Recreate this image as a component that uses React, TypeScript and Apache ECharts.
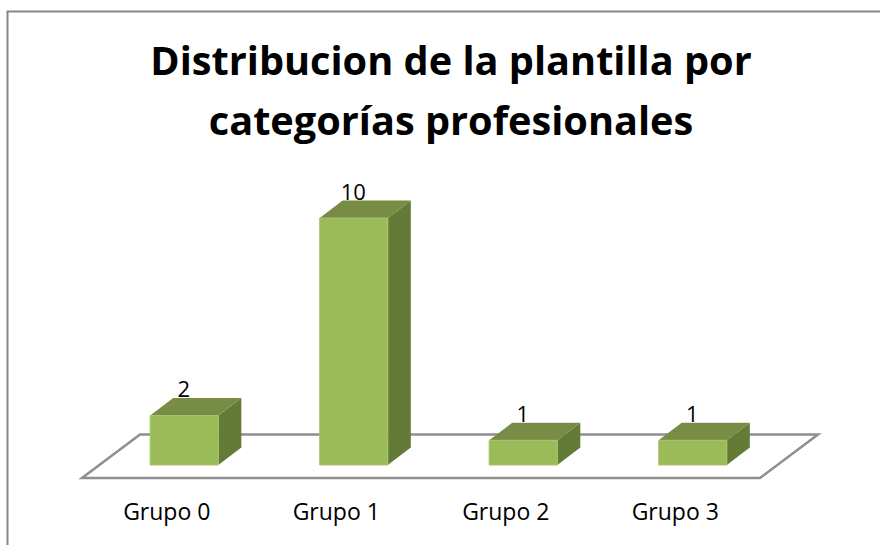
import React, { useEffect, useRef } from "react";
import * as echarts from "echarts";

const categories = ["Grupo 0", "Grupo 1", "Grupo 2", "Grupo 3"];
const values = [2, 10, 1, 1];
const titleText = "Distribucion de la plantilla por\ncategorías profesionales";

const FONT = "'Open Sans', 'Noto Sans', sans-serif";

function renderFloor(params: any, api: any) {
  const c = params.coordSys;
  const dx = 58;
  const dy = 43.5;
  const b = c.y + c.height;
  return {
    type: "polygon",
    silent: true,
    shape: {
      points: [
        [c.x, b],
        [c.x + c.width, b],
        [c.x + c.width + dx, b - dy],
        [c.x + dx, b - dy],
      ],
    },
    style: { fill: "#ffffff", stroke: "#8f8f8f", lineWidth: 2.5, lineJoin: "miter" },
  };
}

function renderBar(params: any, api: any) {
  const idx = api.value(0);
  const v = api.value(1);
  const top = api.coord([idx, v]);
  const base = api.coord([idx, 0]);
  const band = api.size([1, 0])[0];
  const w = band * 0.402;
  const shiftX = 17.5;
  const shiftY = -13;
  const depthX = 23;
  const depthY = -17.5;
  const x0 = top[0] + shiftX - w / 2;
  const x1 = x0 + w;
  const yT = top[1] + shiftY;
  const yB = base[1] + shiftY;
  return {
    type: "group",
    children: [
      {
        type: "polygon",
        shape: { points: [[x1, yT], [x1 + depthX, yT + depthY], [x1 + depthX, yB + depthY], [x1, yB]] },
        style: { fill: "#647a37" },
      },
      {
        type: "polygon",
        shape: { points: [[x0, yT], [x0 + depthX, yT + depthY], [x1 + depthX, yT + depthY], [x1, yT]] },
        style: { fill: "#778c45" },
      },
      {
        type: "rect",
        shape: { x: x0, y: yT, width: w, height: yB - yT },
        style: { fill: "#9bbb59", stroke: "#a6c46c", lineWidth: 1 },
      },
      {
        type: "text",
        style: {
          x: x0 + w / 2 - 0.5,
          y: yT + depthY + 1,
          text: String(v),
          fill: "#000000",
          font: `22px ${FONT}`,
          align: "center",
          verticalAlign: "bottom",
        },
      },
    ],
  };
}

export default function App() {
  const ref = useRef<HTMLDivElement>(null);
  useEffect(() => {
    document.body.style.margin = "0";
    document.body.style.background = "#ffffff";
    const chart = echarts.init(ref.current!, undefined, { renderer: "svg" });
    chart.setOption({
      animation: false,
      backgroundColor: "#ffffff",
      title: {
        text: titleText,
        left: 446,
        top: 25,
        textAlign: "center",
        textStyle: { color: "#000000", fontSize: 39.7, fontWeight: "bold", fontFamily: FONT, lineHeight: 60 },
      },
      grid: { left: 82, width: 678, top: 231, height: 247 },
      xAxis: {
        type: "category",
        data: categories,
        axisLine: { show: false },
        axisTick: { show: false },
        splitLine: { show: false },
        axisLabel: { color: "#000000", fontSize: 23, fontFamily: FONT, margin: 21, interval: 0 },
      },
      yAxis: { type: "value", min: 0, max: 10, show: false },
      series: [
        {
          type: "custom",
          name: "floor",
          silent: true,
          z: 1,
          renderItem: renderFloor,
          data: [[0, 0]],
        },
        {
          type: "custom",
          name: "plantilla",
          z: 2,
          renderItem: renderBar,
          encode: { x: 0, y: 1 },
          data: categories.map((_, i) => [i, values[i]]),
        },
      ],
      graphic: [
        {
          type: "polyline",
          silent: true,
          shape: { points: [[7.5, 545], [7.5, 11.5], [880, 11.5]] },
          style: { fill: "none", stroke: "#868686", lineWidth: 2 },
        },
      ],
    });
    return () => chart.dispose();
  }, []);
  return <div ref={ref} style={{ width: 880, height: 545 }} />;
}
